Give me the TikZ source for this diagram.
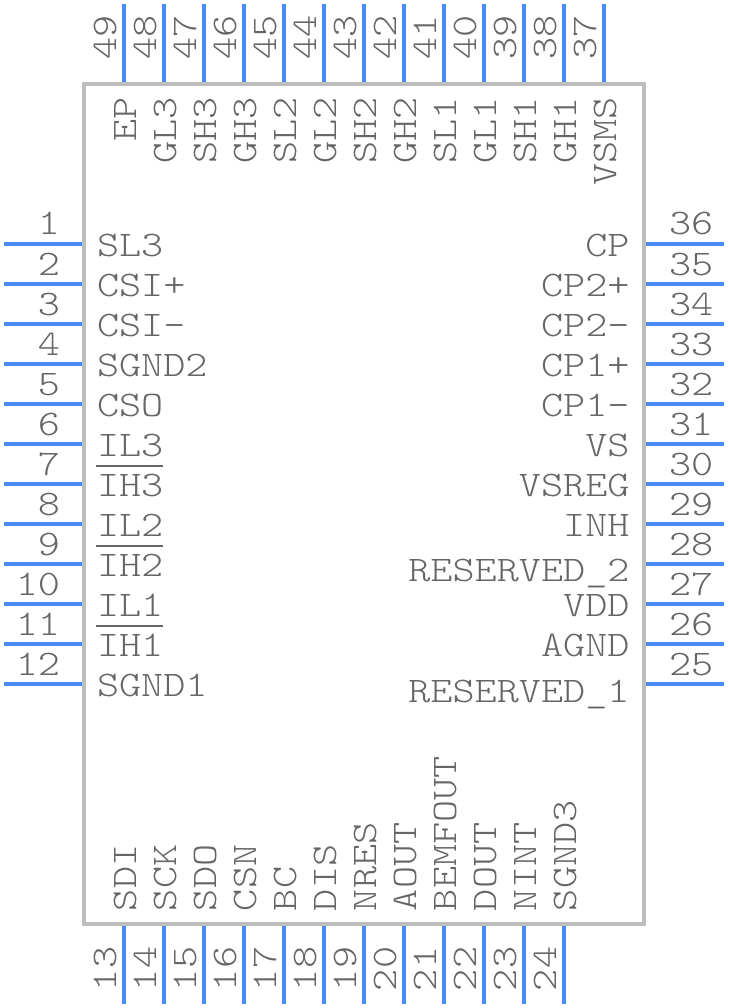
\documentclass[tikz,border=0pt]{standalone}
\usepackage{fontspec}
\usepackage{graphicx}
\newfontfamily\pinfont{Latin Modern Mono Light}
\definecolor{pinblue}{HTML}{4A8CF5}
\definecolor{bodygrey}{HTML}{BEBEBE}
\definecolor{textgrey}{HTML}{666666}
\newcommand{\pintext}[1]{\scalebox{1.17}[1]{\fontsize{36}{36}\selectfont\pinfont #1}}
\tikzset{
 x=1pt,y=-1pt,
 pinline/.style={draw=pinblue,line width=4pt},
 bodyline/.style={draw=bodygrey,line width=4pt},
 barline/.style={draw=textgrey,line width=1.6pt},
 lbl/.style={inner sep=0pt,outer sep=0pt,text=textgrey},
}
\begin{document}
\begin{tikzpicture}
\useasboundingbox (0,0) rectangle (728,1008);
\node[bodyline,minimum width=560pt,minimum height=840pt,inner sep=0pt,outer sep=0pt] (body) at (364,504) {};
% left pins and labels
\foreach \n/\t [count=\i from 0] in {1/SL3,2/CSI+,3/CSI-,4/SGND2,5/CSO,6/IL3,7/IH3,8/IL2,9/IH2,10/IL1,11/IH1,12/SGND1}{
  \pgfmathsetmacro\yy{244+40*\i}
  \coordinate (pin\n) at (4,\yy);
  \coordinate (end\n) at (82,\yy);
  \draw[pinline] (pin\n) -- (end\n);
  \node[lbl,anchor=base east] (num\n) at (60,\yy-9) {\pintext{\n}};
  \node[lbl,anchor=base west] (name\n) at (97,\yy+12.5) {\pintext{\t}};
}
% right pins and labels
\foreach \n/\t/\dy [count=\i from 0] in {36/CP/12.5,35/CP2+/12.5,34/CP2-/12.5,33/CP1+/12.5,32/CP1-/12.5,31/VS/12.5,30/VSREG/12.5,29/INH/12.5,28/RESERVED\_2/17.5,27/VDD/12,26/AGND/12,25/RESERVED\_1/18}{
  \pgfmathsetmacro\yy{244+40*\i}
  \coordinate (pin\n) at (724,\yy);
  \coordinate (end\n) at (646,\yy);
  \draw[pinline] (pin\n) -- (end\n);
  \node[lbl,anchor=base west] (num\n) at (669,\yy-9) {\pintext{\n}};
  \node[lbl,anchor=base east] (name\n) at (629.5,\yy+\dy) {\pintext{\t}};
}
% bottom pins and labels
\foreach \n/\t [count=\i from 0] in {13/SDI,14/SCK,15/SDO,16/CSN,17/BC,18/DIS,19/NRES,20/AOUT,21/BEMFOUT,22/DOUT,23/NINT,24/SGND3}{
  \pgfmathsetmacro\xx{124+40*\i}
  \coordinate (pin\n) at (\xx,1004);
  \coordinate (end\n) at (\xx,926);
  \draw[pinline] (pin\n) -- (end\n);
  \node[lbl,rotate=90,anchor=base west] (num\n) at (\xx-8,991) {\pintext{\n}};
  \node[lbl,rotate=90,anchor=base west] (name\n) at (\xx+12.5,911) {\pintext{\t}};
}
% top pins and labels
\foreach \n/\t [count=\i from 0] in {49/EP,48/GL3,47/SH3,46/GH3,45/SL2,44/GL2,43/SH2,42/GH2,41/SL1,40/GL1,39/SH1,38/GH1,37/VSMS}{
  \pgfmathsetmacro\xx{124+40*\i}
  \coordinate (pin\n) at (\xx,4);
  \coordinate (end\n) at (\xx,82);
  \draw[pinline] (pin\n) -- (end\n);
  \node[lbl,rotate=90,anchor=base west] (num\n) at (\xx-7.5,60) {\pintext{\n}};
  \node[lbl,rotate=90,anchor=base east] (name\n) at (\xx+12.5,97) {\pintext{\t}};
}
% active-low bars
\coordinate (barA) at (96,466); \coordinate (barAe) at (163,466);
\coordinate (barB) at (96,546); \coordinate (barBe) at (163,546);
\coordinate (barC) at (96,626); \coordinate (barCe) at (163,626);
\draw[barline] (barA) -- (barAe);
\draw[barline] (barB) -- (barBe);
\draw[barline] (barC) -- (barCe);
\end{tikzpicture}
\end{document}
